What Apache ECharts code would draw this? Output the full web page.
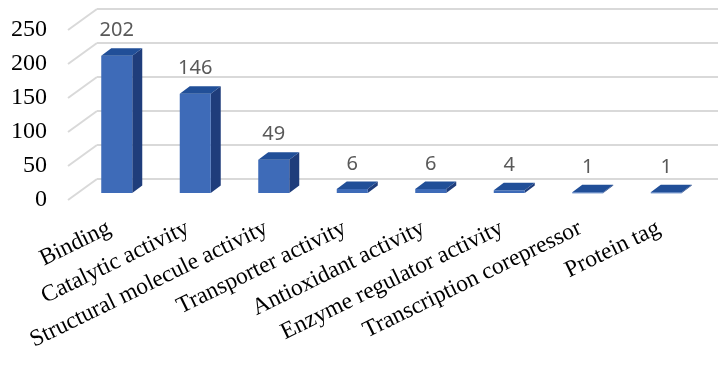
<!DOCTYPE html>
<html>
<head>
<meta charset="utf-8">
<script src="https://cdn.jsdelivr.net/npm/echarts@6/dist/echarts.min.js"></script>
<style>
  html, body { margin: 0; padding: 0; background: #fff; }
  #chart { width: 718px; height: 365px; }
</style>
</head>
<body>
<div id="chart"></div>
<script>
var categories = ['Binding', 'Catalytic activity', 'Structural molecule activity', 'Transporter activity',
  'Antioxidant activity', 'Enzyme regulator activity', 'Transcription corepressor', 'Protein tag'];
var counts = [202, 146, 49, 6, 6, 4, 1, 1];
var yTicks = [0, 50, 100, 150, 200, 250];

// depth of the floor (front edge -> back wall) and of one bar, in px
var floorDx = 29, floorDy = -21;
var barOx = 9.5, barOy = -7;
var barDx = 10, barDy = -7.5;

var serif = 'Liberation Serif';

var chart = echarts.init(document.getElementById('chart'));

var option = {
  animation: false,
  grid: [
    {left: 68, right: 22, top: 30, bottom: 165},   // front floor plane
    {left: 97, right: 0, top: 9, bottom: 186},     // back wall
    {left: 70, right: 20, top: 30, bottom: 165}    // category labels
  ],
  xAxis: [
    {gridIndex: 0, type: 'category', data: categories, show: false},
    {gridIndex: 1, type: 'category', data: categories, show: false},
    {
      gridIndex: 2, type: 'category', data: categories,
      axisLine: {show: false}, axisTick: {show: false},
      axisLabel: {
        interval: 0, rotate: 26, margin: 27,
        fontFamily: serif, fontSize: 23.5, color: '#000'
      }
    }
  ],
  yAxis: [
    {
      gridIndex: 0, type: 'value', min: 0, max: 250, interval: 50,
      axisLine: {show: false}, axisTick: {show: false}, splitLine: {show: false},
      axisLabel: {margin: 21, fontFamily: serif, fontSize: 24, color: '#000'}
    },
    {
      gridIndex: 1, type: 'value', min: 0, max: 250, interval: 50,
      axisLine: {show: false}, axisTick: {show: false}, axisLabel: {show: false},
      splitLine: {lineStyle: {color: '#d9d9d9', width: 2}}
    },
    {gridIndex: 2, type: 'value', min: 0, max: 250, show: false}
  ],
  series: [
    {
      // side-wall diagonals for each y tick
      type: 'custom',
      xAxisIndex: 0, yAxisIndex: 0,
      data: yTicks.map(function (t) { return [0, t]; }),
      silent: true,
      renderItem: function (params, api) {
        var p = api.coord([0, api.value(1)]);
        var x = params.coordSys.x;
        return {
          type: 'line',
          shape: {x1: x, y1: p[1], x2: x + floorDx, y2: p[1] + floorDy},
          style: {stroke: '#d9d9d9', lineWidth: 2}
        };
      }
    },
    {
      type: 'custom',
      xAxisIndex: 0, yAxisIndex: 0,
      data: counts.map(function (v, i) { return [i, v]; }),
      renderItem: function (params, api) {
        var i = api.value(0), v = api.value(1);
        var base = api.coord([i, 0]);
        var top = api.coord([i, v]);
        var bw = api.size([1, 0])[0] * 0.395;
        var x0 = base[0] - bw / 2 + barOx, x1 = x0 + bw;
        var yb = base[1] + barOy, yt = top[1] + barOy;
        return {
          type: 'group',
          children: [
            {
              type: 'polygon',
              shape: {points: [[x1, yb], [x1, yt], [x1 + barDx, yt + barDy], [x1 + barDx, yb + barDy]]},
              style: {fill: '#1f3d7b'}
            },
            {
              type: 'rect',
              shape: {x: x0, y: yt, width: bw, height: Math.max(yb - yt, 1)},
              style: {fill: '#3e6bb8'}
            },
            {
              type: 'polygon',
              shape: {points: [[x0, yt], [x1, yt], [x1 + barDx, yt + barDy], [x0 + barDx, yt + barDy]]},
              style: {fill: '#214f98'}
            },
            {
              type: 'text',
              style: {
                text: String(v), x: x0 + bw / 2, y: yt - 15,
                align: 'center', verticalAlign: 'bottom',
                fontFamily: 'Noto Sans', fontSize: 20, fill: '#595959'
              }
            }
          ]
        };
      }
    }
  ]
};

chart.setOption(option);
</script>
</body>
</html>
